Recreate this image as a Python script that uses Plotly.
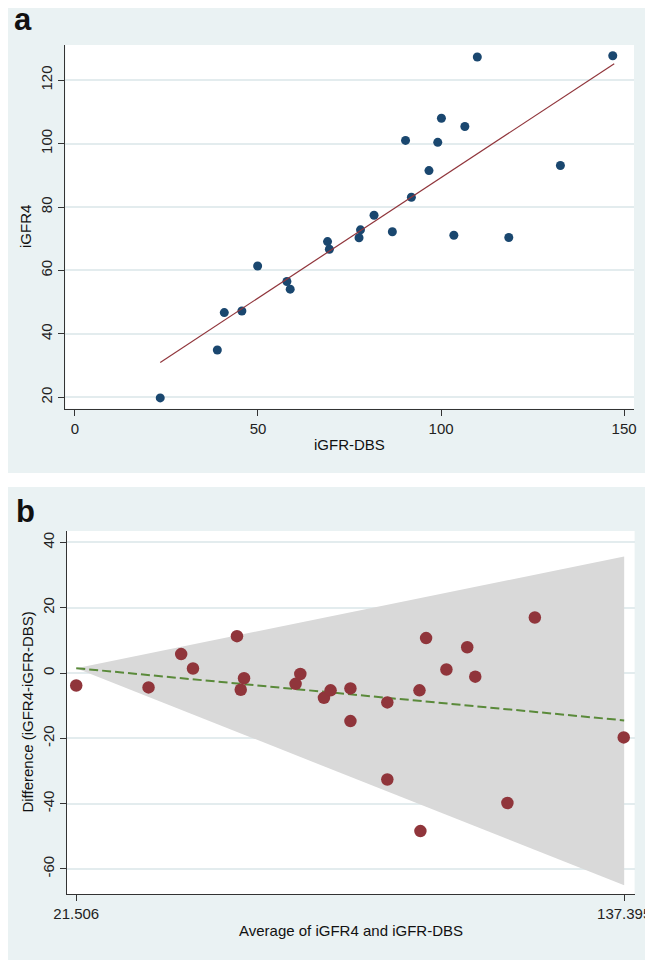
import plotly.graph_objects as go

# panel a: iGFR-DBS vs iGFR4
igfr_dbs = [23.3, 38.9, 40.8, 45.6, 49.9, 57.9, 58.8, 69.0, 69.5, 77.6, 78.0, 81.7,
            86.7, 90.3, 91.9, 96.7, 99.1, 100.1, 103.5, 106.5, 109.9, 118.5, 132.6, 146.9]
igfr4 = [19.8, 34.9, 46.7, 47.2, 61.4, 56.5, 54.1, 69.1, 66.7, 70.3, 72.8, 77.4,
         72.2, 101.0, 83.1, 91.5, 100.4, 108.0, 71.1, 105.4, 127.3, 70.4, 93.1, 127.7]
fit_x = [23.3, 147.3]
fit_y = [31.0, 125.2]
a_xticks = [0, 50, 100, 150]
a_yticks = [20, 40, 60, 80, 100, 120]

# panel b: Bland-Altman
ba_mean = [21.506, 36.8, 43.7, 46.2, 55.5, 56.3, 57.0, 67.9, 68.9, 73.9, 75.3, 79.5,
           79.5, 87.3, 87.3, 94.1, 94.3, 95.5, 99.8, 104.2, 105.9, 112.7, 118.5, 137.3]
ba_diff = [-3.8, -4.4, 5.8, 1.4, 11.3, -5.1, -1.6, -3.3, -0.3, -7.6, -5.3, -4.7,
           -14.7, -9.0, -32.6, -5.3, -48.4, 10.7, 1.1, 7.9, -1.1, -39.8, 17.0, -19.7]
trend_x = [21.506, 137.395]
trend_y = [1.5, -14.5]
band_x = [21.506, 137.395, 137.395, 21.506]
band_y = [1.5, 35.7, -65.0, 1.5]
b_xticks = [21.506, 137.395]
b_xticktext = ["21.506", "137.395"]
b_yticks = [-60, -40, -20, 0, 20, 40]
b_yticktext = ["-60", "-40", "-20", "0", "20", "40"]

# the page body has an 8px margin, so the figure is drawn 8px in from the corner
OFF = 8
W, H = 653 - OFF, 960 - OFF
BG = "#eaf2f3"
GRID = "#e3ecee"
NAVY = "#1a476f"
MAROON = "#90353b"
FONT = "Liberation Sans, Arial, sans-serif"


def px(x):
    return (x - OFF) / W


def py(y):
    return 1 - (y - OFF) / H


fig = go.Figure()

fig.add_trace(go.Scatter(x=igfr_dbs, y=igfr4, mode="markers",
                         marker=dict(color=NAVY, size=9),
                         xaxis="x", yaxis="y", showlegend=False))
fig.add_trace(go.Scatter(x=fit_x, y=fit_y, mode="lines",
                         line=dict(color=MAROON, width=1.2),
                         xaxis="x", yaxis="y", showlegend=False))

fig.add_trace(go.Scatter(x=band_x, y=band_y, mode="lines", fill="toself",
                         fillcolor="#d9d9d9", line=dict(width=0),
                         xaxis="x2", yaxis="y2", showlegend=False))
fig.add_trace(go.Scatter(x=trend_x, y=trend_y, mode="lines",
                         line=dict(color="#5a8a3a", width=2, dash="9px,4px"),
                         xaxis="x2", yaxis="y2", showlegend=False))
fig.add_trace(go.Scatter(x=ba_mean, y=ba_diff, mode="markers",
                         marker=dict(color=MAROON, size=12.5),
                         xaxis="x2", yaxis="y2", showlegend=False))

axis_common = dict(showline=True, linecolor="#333333", linewidth=1,
                   ticks="outside", ticklen=6, tickcolor="#333333",
                   tickfont=dict(family=FONT, size=15, color="#222222"),
                   zeroline=False, mirror=False, automargin=False)

fig.update_layout(
    template="none",
    width=W, height=H,
    margin=dict(l=0, r=0, t=0, b=0, autoexpand=False),
    paper_bgcolor=BG,
    plot_bgcolor="white",
    font=dict(family=FONT, color="#222222"),
    xaxis=dict(domain=[px(65.4), px(634)], range=[-2.6, 152.7],
               tickvals=a_xticks, showgrid=False, anchor="y",
               **axis_common),
    yaxis=dict(domain=[py(408.7), py(45)], range=[16.4, 131.1],
               tickvals=a_yticks, tickangle=-90,
               showgrid=True, gridcolor=GRID, gridwidth=1.5, anchor="x",
               **axis_common),
    xaxis2=dict(domain=[px(66.7), px(634.6)], range=[19.49, 139.6],
                tickvals=b_xticks, ticktext=b_xticktext, showgrid=False,
                anchor="y2", **axis_common),
    yaxis2=dict(domain=[py(894.3), py(531)], range=[-67.75, 43.5],
                tickvals=b_yticks, ticktext=b_yticktext, tickangle=-90,
                showgrid=True, gridcolor=GRID, gridwidth=1.5, anchor="x2",
                **axis_common),
)

# white strips: gap between the panels and the right edge
for x0, x1, y0, y1 in [(0, 653, 473, 487), (650, 653, 0, 960)]:
    fig.add_shape(type="rect", xref="paper", yref="paper", layer="below",
                  x0=px(x0), x1=px(x1), y0=py(y1), y1=py(y0),
                  fillcolor="white", line=dict(width=0))

labels = [
    ("a", 23, 20, 31, True, 0),
    ("b", 25, 511, 31, True, 0),
    ("iGFR-DBS", 349.7, 445, 15, False, 0),
    ("iGFR4", 26, 227, 15, False, -90),
    ("Average of iGFR4 and iGFR-DBS", 350.6, 930, 15, False, 0),
    ("Difference (iGFR4-iGFR-DBS)", 28, 712.6, 15, False, -90),
]
for text, x, y, size, bold, angle in labels:
    fig.add_annotation(text="<b>%s</b>" % text if bold else text,
                       xref="paper", yref="paper", x=px(x), y=py(y),
                       xanchor="center", yanchor="middle", showarrow=False,
                       textangle=angle,
                       font=dict(family=FONT, size=size, color="#111111"))

fig.write_html("out.html")
